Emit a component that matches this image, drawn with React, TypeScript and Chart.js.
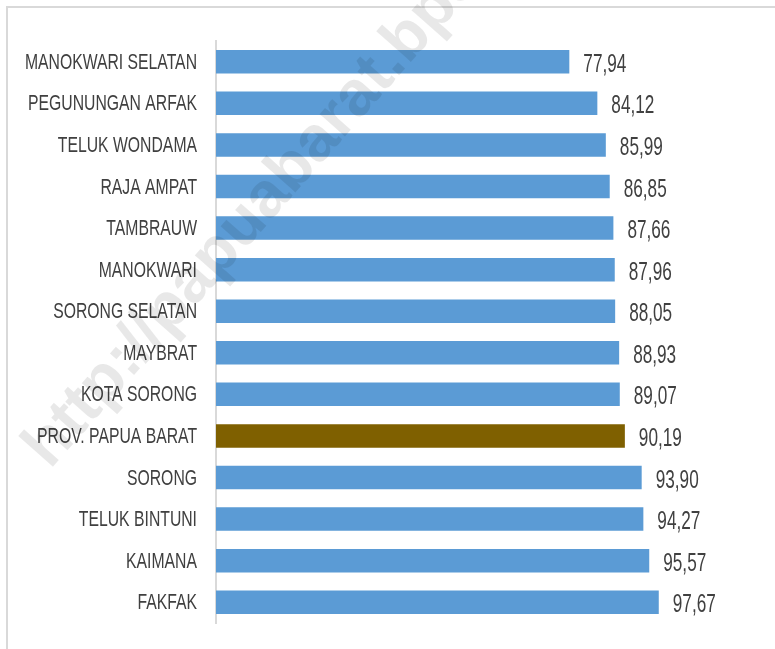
import React, { useEffect, useRef } from "react";
import { Chart, registerables } from "chart.js";

Chart.register(...registerables);

const categories = [
  "MANOKWARI SELATAN",
  "PEGUNUNGAN ARFAK",
  "TELUK WONDAMA",
  "RAJA AMPAT",
  "TAMBRAUW",
  "MANOKWARI",
  "SORONG SELATAN",
  "MAYBRAT",
  "KOTA SORONG",
  "PROV. PAPUA BARAT",
  "SORONG",
  "TELUK BINTUNI",
  "KAIMANA",
  "FAKFAK",
];

const values = [77.94, 84.12, 85.99, 86.85, 87.66, 87.96, 88.05, 88.93, 89.07, 90.19, 93.9, 94.27, 95.57, 97.67];

const highlightCategory = "PROV. PAPUA BARAT";
const watermarkText = "http://papuabarat.bps.go.id";

const BLUE = "#5B9BD5";
const GOLD = "#7F6000";
const TEXT = "#404040";

const formatValue = (v: number) => v.toFixed(2).replace(".", ",");

const framePlugin = {
  id: "frame",
  beforeDraw(chart: any) {
    const ctx = chart.ctx;
    ctx.save();
    ctx.fillStyle = "#ffffff";
    ctx.fillRect(0, 0, chart.width, chart.height);
    ctx.strokeStyle = "#d9d9d9";
    ctx.lineWidth = 2;
    ctx.beginPath();
    ctx.moveTo(7, chart.height);
    ctx.lineTo(7, 7);
    ctx.lineTo(chart.width, 7);
    ctx.stroke();
    ctx.restore();
  },
};

// draw condensed text (Calibri-like look) with a horizontal squeeze
function drawCondensed(ctx: any, text: string, x: number, y: number, sx: number, align: "left" | "right") {
  ctx.save();
  ctx.translate(x, y);
  ctx.scale(sx, 1);
  ctx.textAlign = align;
  ctx.fillText(text, 0, 0);
  ctx.restore();
}

const labelsPlugin = {
  id: "textLabels",
  afterDatasetsDraw(chart: any) {
    const ctx = chart.ctx;
    const yScale = chart.scales.y;
    const meta = chart.getDatasetMeta(0);
    ctx.save();
    ctx.fillStyle = TEXT;
    ctx.textBaseline = "alphabetic";
    // category labels
    ctx.font = '22.5px "Liberation Sans", Arial, sans-serif';
    categories.forEach((c, i) => {
      const y = yScale.getPixelForValue(i);
      drawCondensed(ctx, c, yScale.right - 19, y + 7, 0.7, "right");
    });
    // value labels
    ctx.font = '25.5px "Liberation Sans", Arial, sans-serif';
    meta.data.forEach((bar: any, i: number) => {
      drawCondensed(ctx, formatValue(values[i]), bar.x + 14, bar.y + 10, 0.674, "left");
    });
    ctx.restore();
  },
};

const watermarkPlugin = {
  id: "watermark",
  afterDraw(chart: any) {
    const ctx = chart.ctx;
    ctx.save();
    ctx.translate(50, 470);
    ctx.rotate((-48.5 * Math.PI) / 180);
    ctx.font = 'bold 64px "Liberation Sans", sans-serif';
    ctx.fillStyle = "rgba(0,0,0,0.09)";
    ctx.textAlign = "left";
    ctx.textBaseline = "alphabetic";
    ctx.fillText(watermarkText, 0, 0);
    ctx.restore();
  },
};

export default function App() {
  const canvasRef = useRef<HTMLCanvasElement | null>(null);

  useEffect(() => {
    if (!canvasRef.current) return;
    const chart = new Chart(canvasRef.current, {
      type: "bar",
      data: {
        labels: categories,
        datasets: [
          {
            data: values,
            backgroundColor: categories.map((c) => (c === highlightCategory ? GOLD : BLUE)),
            borderWidth: 0,
            barPercentage: 0.565,
            categoryPercentage: 1,
          },
        ],
      },
      options: {
        indexAxis: "y",
        responsive: false,
        animation: false,
        devicePixelRatio: 1,
        layout: { padding: { left: 0, right: 15, top: 41, bottom: 26 } },
        plugins: {
          legend: { display: false },
          tooltip: { enabled: false },
          title: { display: false },
        },
        scales: {
          x: {
            display: false,
            min: 0,
            max: 120,
          },
          y: {
            type: "category",
            grid: { display: false, drawTicks: false },
            border: { display: true, color: "#d9d9d9", width: 2 },
            ticks: { display: false },
            afterFit(scale: any) {
              scale.width = 216;
            },
          },
        },
      },
      plugins: [framePlugin, labelsPlugin, watermarkPlugin],
    });
    return () => chart.destroy();
  }, []);

  return (
    <div style={{ position: "fixed", left: 0, top: 0, width: 775, height: 649, background: "#fff" }}>
      <canvas ref={canvasRef} width={775} height={649} style={{ display: "block" }} />
    </div>
  );
}
